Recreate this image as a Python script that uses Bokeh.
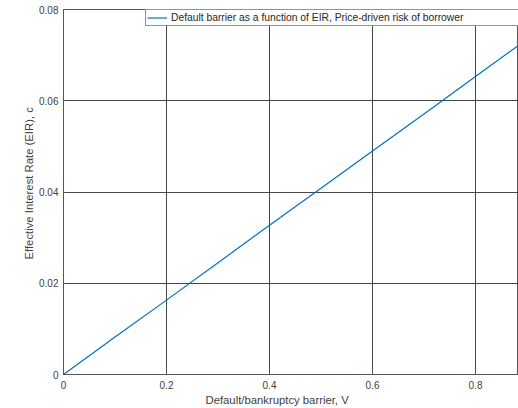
from bokeh.plotting import figure
from bokeh.models import FixedTicker, Legend, LegendItem, Range1d, Title
from bokeh.embed import file_html
from bokeh.resources import INLINE

# Data
barrier_v = [0.0, 0.1, 0.2, 0.3, 0.4, 0.5, 0.6, 0.7, 0.8, 0.9]
eir_c = [0.0, 0.0082, 0.0163, 0.0245, 0.0327, 0.0408, 0.0490, 0.0571, 0.0653, 0.0735]
x_ticks = [0, 0.2, 0.4, 0.6, 0.8]
x_tick_labels = ["0", "0.2", "0.4", "0.6", "0.8"]
y_ticks = [0, 0.02, 0.04, 0.06, 0.08]
y_tick_labels = ["0", "0.02", "0.04", "0.06", "0.08"]
series_name = "Default barrier as a function of EIR, Price-driven risk of borrower"
x_title = "Default/bankruptcy barrier, V"
y_title = "Effective Interest Rate (EIR), c"

FONT = "Liberation Sans"
TXT = "#404040"
AX = "#555555"

p = figure(frame_width=455, frame_height=365, output_backend="svg",
           toolbar_location=None, x_range=Range1d(0, 0.8835), y_range=Range1d(0, 0.08),
           min_border_left=63, min_border_right=0, min_border_top=9, min_border_bottom=33)
p.background_fill_color = "white"
p.border_fill_color = "white"
p.outline_line_color = AX
p.outline_line_width = 1

r = p.line(barrier_v, eir_c, line_color="#0072BD", line_width=1.2)

xax = p.below[0]
yax = p.left[0]
for ax, ticks, labels in ((xax, x_ticks, x_tick_labels), (yax, y_ticks, y_tick_labels)):
    ax.ticker = FixedTicker(ticks=ticks)
    ax.major_label_overrides = {t: l for t, l in zip(ticks, labels)}
    ax.major_tick_in = 4
    ax.major_tick_out = 0
    ax.minor_tick_line_color = None
    ax.axis_line_color = AX
    ax.major_tick_line_color = AX
    ax.major_label_text_font = FONT
    ax.major_label_text_font_size = "10px"
    ax.major_label_text_color = TXT

xax.major_label_standoff = 6
yax.major_label_standoff = 5

for g, ticks in ((p.xgrid[0], x_ticks), (p.ygrid[0], y_ticks)):
    g.ticker = FixedTicker(ticks=ticks)
    g.grid_line_color = "#262626"
    g.grid_line_alpha = 0.85
    g.grid_line_width = 1

p.add_layout(Title(text=x_title, align="left", offset=142, text_font=FONT,
                   text_font_size="11.3px", text_font_style="normal", text_color=TXT,
                   standoff=0), "below")
p.add_layout(Title(text=y_title, align="left", offset=115, text_font=FONT,
                   text_font_size="11.3px", text_font_style="normal", text_color=TXT,
                   standoff=4), "left")

legend = Legend(items=[LegendItem(label=series_name, renderers=[r])],
                location=(82, 348), padding=1, spacing=0, margin=0,
                glyph_width=20, glyph_height=13, label_height=13, label_width=370,
                label_standoff=4, label_text_font=FONT, label_text_font_size="10.3px",
                label_text_color="#262626", border_line_color="#262626",
                border_line_width=1, background_fill_color="white", background_fill_alpha=1)
p.add_layout(legend)

open("out.html", "w").write(file_html(p, INLINE))
